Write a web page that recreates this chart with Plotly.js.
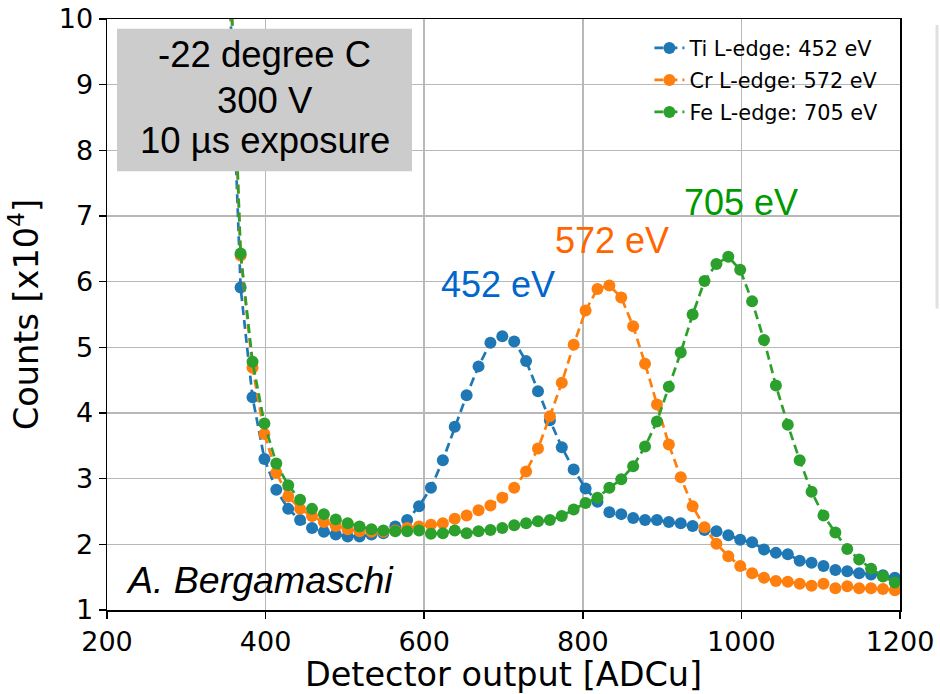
<!DOCTYPE html>
<html>
<head>
<meta charset="utf-8">
<script src="https://cdn.plot.ly/plotly-3.0.1.min.js"></script>
<style>html,body{margin:0;padding:0;background:#fff;}#chart{width:940px;height:694px;}</style>
</head>
<body>
<div id="chart"></div>
<script>
// Detector output [ADCu]
var adcu = [338.5, 353.5, 368.5, 383.5, 398.5, 413.5, 428.5, 443.5, 458.5, 473.5, 488.5, 503.5, 518.5, 533.5, 548.5, 563.5, 578.5, 593.5, 608.5, 623.5, 638.5, 653.5, 668.5, 683.5, 698.5, 713.5, 728.5, 743.5, 758.5, 773.5, 788.5, 803.5, 818.5, 833.5, 848.5, 863.5, 878.5, 893.5, 908.5, 923.5, 938.5, 953.5, 968.5, 983.5, 998.5, 1013.5, 1028.5, 1043.5, 1058.5, 1073.5, 1088.5, 1103.5, 1118.5, 1133.5, 1148.5, 1163.5, 1178.5, 1193.5];
// Counts [x10^4]
var tiCounts = [15.0, 10.8, 5.91, 4.24, 3.30, 2.83, 2.54, 2.37, 2.25, 2.19, 2.15, 2.12, 2.12, 2.15, 2.17, 2.27, 2.37, 2.58, 2.86, 3.28, 3.79, 4.27, 4.71, 5.07, 5.17, 5.09, 4.79, 4.33, 3.89, 3.48, 3.14, 2.85, 2.65, 2.49, 2.46, 2.40, 2.37, 2.37, 2.34, 2.32, 2.28, 2.22, 2.20, 2.14, 2.07, 2.03, 1.92, 1.87, 1.85, 1.75, 1.72, 1.67, 1.61, 1.59, 1.56, 1.54, 1.53, 1.49];
var crCounts = [16.0, 11.3, 6.40, 4.69, 3.68, 3.09, 2.73, 2.54, 2.43, 2.34, 2.28, 2.23, 2.20, 2.19, 2.19, 2.21, 2.25, 2.27, 2.30, 2.32, 2.39, 2.44, 2.52, 2.59, 2.71, 2.86, 3.11, 3.46, 3.95, 4.46, 5.04, 5.56, 5.89, 5.94, 5.76, 5.32, 4.75, 4.13, 3.52, 3.02, 2.58, 2.26, 2.01, 1.82, 1.67, 1.56, 1.49, 1.44, 1.43, 1.40, 1.37, 1.40, 1.33, 1.36, 1.33, 1.33, 1.32, 1.30];
var feCounts = [16.0, 11.5, 6.43, 4.78, 3.84, 3.23, 2.90, 2.68, 2.54, 2.46, 2.38, 2.32, 2.27, 2.23, 2.21, 2.20, 2.20, 2.21, 2.16, 2.17, 2.21, 2.17, 2.20, 2.22, 2.25, 2.29, 2.32, 2.35, 2.37, 2.43, 2.53, 2.63, 2.71, 2.86, 2.99, 3.19, 3.49, 3.87, 4.40, 4.92, 5.50, 6.01, 6.27, 6.38, 6.18, 5.70, 5.11, 4.42, 3.82, 3.28, 2.80, 2.44, 2.18, 1.93, 1.77, 1.63, 1.51, 1.42];

var seriesNames = ['Ti L-edge: 452 eV', 'Cr L-edge: 572 eV', 'Fe L-edge: 705 eV'];
var seriesColors = ['#1f77b4', '#ff7f0e', '#2ca02c'];
var seriesValues = [tiCounts, crCounts, feCounts];

var peakLabels = ['452 eV', '572 eV', '705 eV'];
var peakLabelX = [693, 837, 1000];
var peakLabelY = [5.95, 6.63, 7.21];
var peakLabelColors = ['#0066cc', '#ff6600', '#009900'];

var infoLines = ['-22 degree C', '300 V', '10 µs exposure'];
var xTicks = [200, 400, 600, 800, 1000, 1200];
var yTicks = [1, 2, 3, 4, 5, 6, 7, 8, 9, 10];

var traces = seriesValues.map(function (vals, k) {
  return {
    x: adcu, y: vals, type: 'scatter', mode: 'lines+markers',
    name: seriesNames[k], legendgroup: 'g' + k,
    line: {color: seriesColors[k], width: 2.7, dash: '9px,5px'},
    marker: {color: seriesColors[k], size: 12, symbol: 'circle'}
  };
});

var annotations = [];
peakLabels.forEach(function (t, k) {
  annotations.push({x: peakLabelX[k], y: peakLabelY[k], xref: 'x', yref: 'y', text: t, showarrow: false,
    xanchor: 'center', yanchor: 'middle', font: {family: 'Liberation Sans, Arial, sans-serif', size: 36, color: peakLabelColors[k]}});
});
var infoY = [0.940, 0.862, 0.794];
infoLines.forEach(function (t, k) {
  annotations.push({x: 0.1992, y: infoY[k], xref: 'paper', yref: 'paper', text: t, showarrow: false,
    xanchor: 'center', yanchor: 'middle', font: {family: 'Liberation Sans, Arial, sans-serif', size: 36.5, color: '#000'}});
});
annotations.push({x: 0.021, y: 1.46, xref: 'paper', yref: 'y', text: '<i>A. Bergamaschi</i>', showarrow: false,
  xanchor: 'left', yanchor: 'middle', font: {family: 'Liberation Sans, Arial, sans-serif', size: 37.5, color: '#000'}});

var layout = {
  width: 940, height: 694,
  margin: {l: 107, r: 40, t: 19, b: 84},
  paper_bgcolor: '#fff', plot_bgcolor: '#fff',
  showlegend: true,
  legend: {x: 0.684, y: 0.985, xanchor: 'left', yanchor: 'top', bgcolor: 'rgba(0,0,0,0)', borderwidth: 0,
    traceorder: 'grouped', tracegroupgap: 2,
    font: {family: 'DejaVu Sans, sans-serif', size: 20.8, color: '#000'}},
  xaxis: {
    range: [200, 1200], tickvals: xTicks, ticktext: xTicks.map(String),
    showgrid: true, gridcolor: '#b8b8b8', gridwidth: 1.5, zeroline: false,
    showline: true, linecolor: '#000', linewidth: 1.5, mirror: true,
    ticks: 'outside', ticklen: 7, tickwidth: 1.5, tickcolor: '#000',
    tickfont: {family: 'DejaVu Sans, sans-serif', size: 27, color: '#000'},
    title: {text: 'Detector output [ADCu]', standoff: 12, font: {family: 'DejaVu Sans, sans-serif', size: 33.5, color: '#000'}}
  },
  yaxis: {
    range: [1, 10], tickvals: yTicks, ticktext: yTicks.map(String),
    showgrid: true, gridcolor: '#b8b8b8', gridwidth: 1.5, zeroline: false,
    showline: true, linecolor: '#000', linewidth: 1.5, mirror: true,
    ticks: 'outside', ticklen: 7, tickwidth: 1.5, tickcolor: '#000',
    tickfont: {family: 'DejaVu Sans, sans-serif', size: 27, color: '#000'},
    title: {text: 'Counts [x10<sup>4</sup>]', standoff: 10, font: {family: 'DejaVu Sans, sans-serif', size: 33.5, color: '#000'}}
  },
  shapes: [
    {type: 'rect', xref: 'paper', yref: 'paper', x0: 0.0126, x1: 0.3846, y0: 0.7425, y1: 0.9834,
      fillcolor: '#cccccc', line: {width: 0}, layer: 'above'},
    {type: 'line', xref: 'paper', yref: 'paper', x0: 1.0467, x1: 1.0467, y0: 0.51, y1: 0.99,
      line: {color: '#e0e0e0', width: 3}}
  ],
  annotations: annotations
};

Plotly.newPlot('chart', traces, layout, {displayModeBar: false, staticPlot: true});
</script>
</body>
</html>
